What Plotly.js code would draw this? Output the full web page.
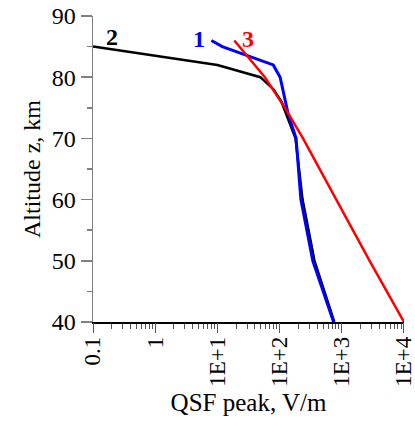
<!DOCTYPE html>
<html>
<head>
<meta charset="utf-8">
<script src="https://cdn.plot.ly/plotly-3.0.1.min.js"></script>
<style>html,body{margin:0;padding:0;background:#fff;}#chart{width:415px;height:421px;}</style>
</head>
<body>
<div id="chart"></div>
<script>
// Curve 2 (black)
const qsf2 = [0.1, 10, 49, 80, 107, 180, 234, 364, 757];
const alt2 = [85, 82, 80, 78, 76, 70, 60, 50, 40];
// Curve 1 (blue)
const qsf1 = [8, 12, 79, 102, 137, 184, 220, 342, 738];
const alt1 = [86, 85, 82, 80, 74, 70, 60, 50, 40];
// Curve 3 (red)
const qsf3 = [18.7, 58, 122, 238, 815, 2800, 10000];
const alt3 = [86, 80, 75, 70, 60, 50, 40];

const xTickVals = [0.1, 1, 10, 100, 1000, 10000];
const xTickText = ['0.1', '1', '1E+1', '1E+2', '1E+3', '1E+4'];
const yTickVals = [40, 50, 60, 70, 80, 90];

const curveLabels = ['2', '1', '3'];
const labelX = [0.2, 5.1, 30.5];
const labelY = [86.6, 86.3, 86.3];
const labelColors = ['#000000', '#0000ff', '#ff0000'];

const serif = 'Liberation Serif, Times New Roman, serif';

const traces = [
  {x: qsf2, y: alt2, mode: 'lines', line: {color: '#000000', width: 2.5}, name: '2'},
  {x: qsf1, y: alt1, mode: 'lines', line: {color: '#0000ff', width: 3}, name: '1'},
  {x: qsf3, y: alt3, mode: 'lines', line: {color: '#ff0000', width: 2.5}, name: '3'},
  // invisible helper trace so the tick-only overlay axis is drawn
  {x: qsf3, y: alt3, xaxis: 'x2', mode: 'lines', opacity: 0, line: {width: 0}, hoverinfo: 'skip'}
];

const annotations = curveLabels.map((t, i) => ({
  x: Math.log10(labelX[i]), y: labelY[i], xref: 'x', yref: 'y',
  text: '<b>' + t + '</b>', showarrow: false,
  font: {family: serif, size: 24, color: labelColors[i]},
  xanchor: 'center', yanchor: 'middle'
}));

const xRange = [-1.0001, 4.0001];

const layout = {
  width: 415, height: 421,
  margin: {l: 93, r: 11, t: 16, b: 99},
  paper_bgcolor: '#ffffff', plot_bgcolor: '#ffffff',
  showlegend: false,
  font: {family: serif, color: '#000000'},
  xaxis: {
    type: 'log', range: xRange,
    tickvals: xTickVals, ticktext: xTickText, tickangle: -90,
    ticks: 'outside', ticklen: 4, tickcolor: '#555555', tickwidth: 1,
    minor: {dtick: 'D1', ticks: 'outside', ticklen: 5, tickcolor: '#555555', showgrid: false},
    showline: true, linecolor: '#000000', linewidth: 1.5,
    showgrid: false, zeroline: false,
    ticklabeloverflow: 'allow',
    tickfont: {family: serif, size: 23, color: '#000000'},
    title: {text: 'QSF peak, V/m', font: {family: serif, size: 25, color: '#000000'}, standoff: 8}
  },
  xaxis2: {
    type: 'log', range: xRange, overlaying: 'x', side: 'bottom', anchor: 'y',
    tickvals: xTickVals, showticklabels: false,
    ticks: 'outside', ticklen: 10, tickcolor: '#555555', tickwidth: 1,
    showline: false, showgrid: false, zeroline: false
  },
  yaxis: {
    range: [40, 90], tickvals: yTickVals,
    ticks: 'outside', ticklen: 11, tickcolor: '#808080', tickwidth: 1.5,
    minor: {dtick: 5, ticks: 'outside', ticklen: 5, tickcolor: '#808080', showgrid: false},
    showline: true, linecolor: '#808080', linewidth: 1.5,
    showgrid: false, zeroline: false,
    tickfont: {family: serif, size: 24, color: '#000000'},
    title: {text: 'Altitude z, km', font: {family: serif, size: 24, color: '#000000'}, standoff: 4}
  },
  annotations: annotations
};

Plotly.newPlot('chart', traces, layout, {displayModeBar: false, staticPlot: true});
</script>
</body>
</html>
